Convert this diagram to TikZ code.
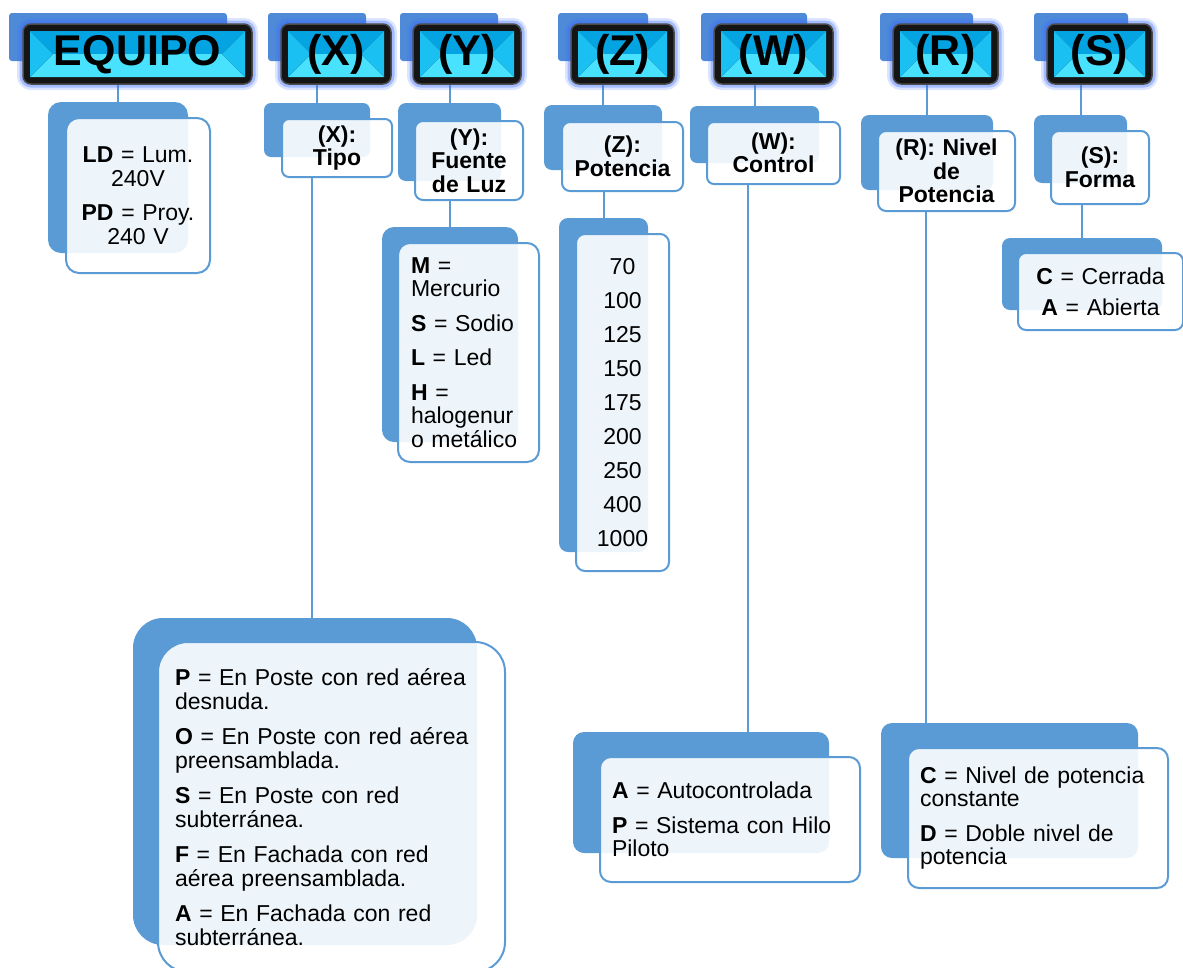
\documentclass[tikz,border=0pt]{standalone}
\usepackage{fontspec}
\setmainfont{Liberation Sans}
\usetikzlibrary{backgrounds}

\definecolor{boxblue}{HTML}{5B9BD5}
\definecolor{hdrblue}{HTML}{4E8AD8}
\definecolor{glowblue}{HTML}{3C6EFF}
\definecolor{bevtop}{HTML}{04A3E2}
\definecolor{bevside}{HTML}{1AC0F2}
\definecolor{bevbottom}{HTML}{48E2FF}
\definecolor{frame}{HTML}{151515}

\newcommand\hdrfont{\fontsize{43}{43}\selectfont\bfseries}
\newcommand\bodyfont{\fontsize{23}{23.5}\selectfont}

\begin{document}
\begin{tikzpicture}[x=1pt,y=-1pt,
  link/.style={draw=boxblue,line width=2pt},
  hdrback/.style={fill=hdrblue,rounded corners=3pt,minimum height=48pt,inner sep=0pt},
  header/.style={fill=frame,draw=black!70,line width=1.5pt,rounded corners=8pt,
    minimum height=60pt,inner sep=0pt,text height=31pt,text depth=9pt,font=\hdrfont,
    preaction={draw=glowblue,draw opacity=.18,line width=12pt},
    preaction={draw=glowblue,draw opacity=.35,line width=7pt},
    path picture={
      \fill[bevtop,sharp corners] ([shift={(7pt,-7pt)}]path picture bounding box.north west)
        -- ([shift={(-7pt,-7pt)}]path picture bounding box.north east)
        -- ([xshift=-30pt]path picture bounding box.east)
        -- ([xshift=30pt]path picture bounding box.west) -- cycle;
      \fill[bevbottom,sharp corners] ([shift={(7pt,7pt)}]path picture bounding box.south west)
        -- ([shift={(-7pt,7pt)}]path picture bounding box.south east)
        -- ([xshift=-30pt]path picture bounding box.east)
        -- ([xshift=30pt]path picture bounding box.west) -- cycle;
      \fill[bevside,sharp corners] ([shift={(7pt,-7pt)}]path picture bounding box.north west)
        -- ([shift={(7pt,7pt)}]path picture bounding box.south west)
        -- ([xshift=30pt]path picture bounding box.west) -- cycle;
      \fill[bevside,sharp corners] ([shift={(-7pt,-7pt)}]path picture bounding box.north east)
        -- ([shift={(-7pt,7pt)}]path picture bounding box.south east)
        -- ([xshift=-30pt]path picture bounding box.east) -- cycle;
    }},
  backbox/.style={fill=boxblue,inner sep=0pt},
  frontbox/.style={draw=boxblue,line width=2pt,fill=white,fill opacity=.9,text opacity=1,
    inner ysep=0pt,inner xsep=12pt,font=\bodyfont},
  titlebox/.style={frontbox,inner xsep=7pt,align=center,font=\bodyfont\bfseries}
]
\useasboundingbox (0,0) rectangle (1183,967);

% header row
\node[hdrback,minimum width=218pt] (eqhb) at (118,37) {};
\node[header,minimum width=229pt] (eqh) at (137.5,54) {EQUIPO};
\node[hdrback,minimum width=98pt] (xhb) at (317,37) {};
\node[header,minimum width=110pt] (xh) at (336,54) {(X)};
\node[hdrback,minimum width=98pt] (yhb) at (449,37) {};
\node[header,minimum width=108pt] (yh) at (467,54) {(Y)};
\node[hdrback,minimum width=90pt] (zhb) at (603,37) {};
\node[header,minimum width=103pt] (zh) at (622.5,54) {(Z)};
\node[hdrback,minimum width=106pt] (whb) at (754,37) {};
\node[header,minimum width=119pt] (wh) at (773.5,54) {(W)};
\node[hdrback,minimum width=93pt] (rhb) at (926.5,37) {};
\node[header,minimum width=105pt] (rh) at (945.5,54) {(R)};
\node[hdrback,minimum width=94pt] (shb) at (1081,37) {};
\node[header,minimum width=105pt] (sh) at (1099.5,54) {(S)};

% second row
\node[backbox,rounded corners=13pt,minimum width=140pt,minimum height=151pt] (eqsb) at (118,177.5) {};
\node[frontbox,rounded corners=13pt,inner xsep=8pt,text width=128pt,minimum height=155pt,align=center] (eqsf) at (138,195.5)
  {\textbf{LD} = Lum.\\240V\\[11pt]\textbf{PD} = Proy.\\240 V};
\node[backbox,rounded corners=7pt,minimum width=106pt,minimum height=54pt] (xsb) at (317,130) {};
\node[titlebox,rounded corners=7pt,text width=96pt,minimum height=58pt] (xsf) at (337,148) {(X):\\Tipo};
\node[backbox,rounded corners=8pt,minimum width=103pt,minimum height=78pt] (ysb) at (449.5,142) {};
\node[titlebox,rounded corners=8pt,text width=94pt,minimum height=79pt] (ysf) at (469,160.5) {(Y):\\Fuente\\de Luz};
\node[backbox,rounded corners=8pt,minimum width=118pt,minimum height=65pt] (zsb) at (603,137.5) {};
\node[titlebox,rounded corners=8pt,text width=107pt,minimum height=69pt] (zsf) at (622.5,156.5) {(Z):\\Potencia};
\node[backbox,rounded corners=7pt,minimum width=129pt,minimum height=57pt] (wsb) at (754.5,134.5) {};
\node[titlebox,rounded corners=7pt,text width=119pt,minimum height=62pt] (wsf) at (773.5,153) {(W):\\Control};
\node[backbox,rounded corners=8pt,minimum width=132pt,minimum height=75pt] (rsb) at (927,152.5) {};
\node[titlebox,rounded corners=8pt,text width=123pt,minimum height=80pt] (rsf) at (946.5,171) {(R): Nivel\\de\\Potencia};
\node[backbox,rounded corners=8pt,minimum width=93pt,minimum height=68pt] (ssb) at (1080.5,149) {};
\node[titlebox,rounded corners=8pt,text width=84pt,minimum height=73pt] (ssf) at (1100,167.5) {(S):\\Forma};

% value lists
\node[backbox,rounded corners=12pt,minimum width=136pt,minimum height=215pt] (ylb) at (450,334.5) {};
\node[frontbox,rounded corners=12pt,inner xsep=13pt,text width=115pt,minimum height=219pt,align=left] (ylf) at (468.5,352.5)
  {\textbf{M} =\\Mercurio\\[11pt]\textbf{S} = Sodio\\[11pt]\textbf{L} = Led\\[11pt]\textbf{H} =\\halogenur\\o metálico};
\node[backbox,rounded corners=9pt,minimum width=89pt,minimum height=334pt] (zlb) at (603.5,385) {};
\node[frontbox,rounded corners=9pt,inner xsep=7pt,text width=79pt,minimum height=337pt,align=center] (zlf) at (622.5,402.5)
  {70\\[10.5pt]100\\[10.5pt]125\\[10.5pt]150\\[10.5pt]175\\[10.5pt]200\\[10.5pt]250\\[10.5pt]400\\[10.5pt]1000};
\node[backbox,rounded corners=8pt,minimum width=160pt,minimum height=72pt] (slb) at (1082,274) {};
\node[frontbox,rounded corners=8pt,inner xsep=8pt,text width=149pt,minimum height=77pt,align=center] (slf) at (1100.5,291.5)
  {\textbf{C} = Cerrada\\[7.5pt]\textbf{A} = Abierta};
\node[backbox,rounded corners=30pt,minimum width=344pt,minimum height=327pt] (xlb) at (305,781.5) {};
\node[frontbox,rounded corners=30pt,inner xsep=17pt,text width=313pt,minimum height=330pt,align=left] (xlf) at (331.5,807)
  {\textbf{P} = En Poste con red aérea\\desnuda.\\[12pt]
   \textbf{O} = En Poste con red aérea\\preensamblada.\\[12pt]
   \textbf{S} = En Poste con red\\subterránea.\\[12pt]
   \textbf{F} = En Fachada con red\\aérea preensamblada.\\[12pt]
   \textbf{A} = En Fachada con red\\subterránea.};
\node[backbox,rounded corners=11pt,minimum width=256pt,minimum height=121pt] (wlb) at (701,792.5) {};
\node[frontbox,rounded corners=11pt,text width=236pt,minimum height=125pt,align=left] (wlf) at (730,819.5)
  {\textbf{A} = Autocontrolada\\[11pt]\textbf{P} = Sistema con Hilo\\Piloto};
\node[backbox,rounded corners=11pt,minimum width=257pt,minimum height=135pt] (rlb) at (1009.5,790.5) {};
\node[frontbox,rounded corners=11pt,text width=236pt,minimum height=140pt,align=left] (rlf) at (1038,818)
  {\textbf{C} = Nivel de potencia\\constante\\[11pt]\textbf{D} = Doble nivel de\\potencia};

\coordinate (xdrop) at (312,0);
\coordinate (wdrop) at (748,0);
\coordinate (rdrop) at (926,0);

\begin{scope}[on background layer]
\draw[link] (eqsb.north) -- (eqsb.north |- eqh.south);
\draw[link] (xsb.north) -- (xsb.north |- xh.south);
\draw[link] (ysb.north) -- (ysb.north |- yh.south);
\draw[link] (zsb.north) -- (zsb.north |- zh.south);
\draw[link] (wsb.north) -- (wsb.north |- wh.south);
\draw[link] (rsb.north) -- (rsb.north |- rh.south);
\draw[link] (ssb.north) -- (ssb.north |- sh.south);
\draw[link] (xdrop |- xsf.south) -- (xdrop |- xlb.north);
\draw[link] (ylb.north) -- (ylb.north |- ysf.south);
\draw[link] (zlb.north) -- (zlb.north |- zsf.south);
\draw[link] (slb.north) -- (slb.north |- ssf.south);
\draw[link] (wdrop |- wsf.south) -- (wdrop |- wlb.north);
\draw[link] (rdrop |- rsf.south) -- (rdrop |- rlb.north);
\end{scope}
\end{tikzpicture}
\end{document}
